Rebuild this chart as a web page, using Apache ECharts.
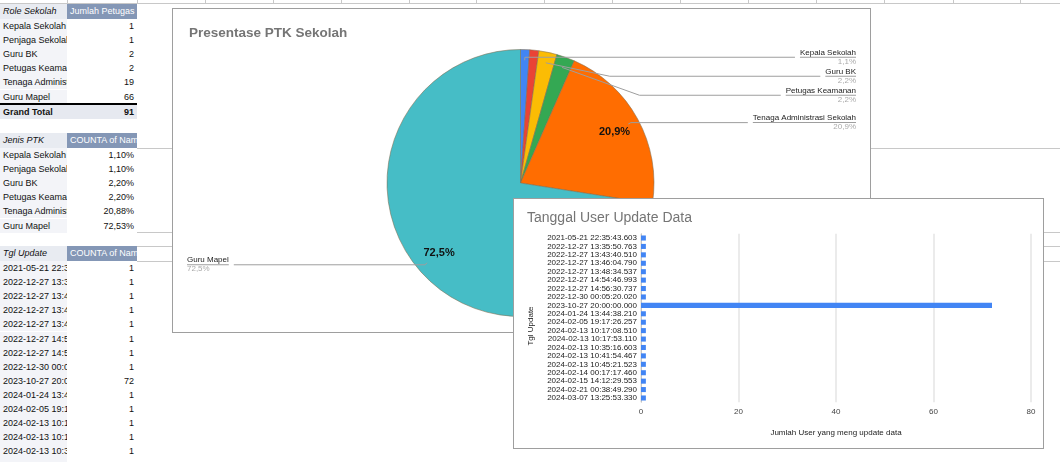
<!DOCTYPE html>
<html><head><meta charset="utf-8">
<script src="https://cdn.jsdelivr.net/npm/echarts@6/dist/echarts.min.js"></script>
<style>
html,body{margin:0;padding:0;width:1060px;height:462px;overflow:hidden;background:#fff;font-family:Arial,"Liberation Sans",sans-serif;}
.c{position:absolute;font-size:9px;white-space:nowrap;overflow:hidden;box-sizing:border-box;color:#111;}
.hl{position:absolute;height:1px;background:#c8c8c8;}
.vl{position:absolute;width:1px;background:#c8c8c8;}
.box{position:absolute;border:1px solid #9e9e9e;box-sizing:border-box;background:#fff;}
</style></head><body>
<div id="sheet"></div>
<div class="box" style="left:172px;top:8px;width:699px;height:325px;"><div id="pie" style="width:697px;height:323px"></div></div>
<div class="box" style="left:513px;top:198px;width:531px;height:251px;"><div id="bar" style="width:529px;height:249px"></div></div>
<script>
// ---------- data ----------
const roles = ['Kepala Sekolah','Penjaga Sekolah','Guru BK','Petugas Keamanan','Tenaga Administrasi Sekolah','Guru Mapel'];
const roleCounts = [1, 1, 2, 2, 19, 66];
const updateTimes = [
  '2021-05-21 22:35:43.603','2022-12-27 13:35:50.763','2022-12-27 13:43:40.510','2022-12-27 13:46:04.790',
  '2022-12-27 13:48:34.537','2022-12-27 14:54:46.993','2022-12-27 14:56:30.737','2022-12-30 00:05:20.020',
  '2023-10-27 20:00:00.000','2024-01-24 13:44:38.210','2024-02-05 19:17:26.257','2024-02-13 10:17:08.510',
  '2024-02-13 10:17:53.110','2024-02-13 10:35:16.603','2024-02-13 10:41:54.467','2024-02-13 10:45:21.523',
  '2024-02-14 00:17:17.460','2024-02-15 14:12:29.553','2024-02-21 00:38:49.290','2024-03-07 13:25:53.330'
];
const updateCounts = [1,1,1,1,1,1,1,1,72,1,1,1,1,1,1,1,1,1,1,1];
const valueTicks = [0, 20, 40, 60, 80];
const hiddenOuterLabels = ['Penjaga Sekolah'];
const palette = ['#4285f4','#ea4335','#fbbc04','#34a853','#ff6d01','#46bdc6'];

// ---------- spreadsheet backdrop ----------
const sheet = document.getElementById('sheet');
function el(cls, style, text){ const d=document.createElement('div'); d.className=cls; d.setAttribute('style',style); if(text!==undefined) d.textContent=text; sheet.appendChild(d); return d; }
const colLines=[67,137,205,273,341,409,476,544,612,680,748,816,884,953,1020];
colLines.forEach(x=>el('vl',`left:${x}px;top:0;height:4px;`));
el('hl','left:0;top:3px;width:1060px;');
[148,232,246,261].forEach(y=>el('hl',`left:137px;top:${y}px;width:923px;`));
const RH=14.1, AW=67, BW=70;
function header(y, a, b){
  el('c',`left:0;top:${y}px;width:${AW}px;height:15px;line-height:15px;background:#e8ebf1;font-style:italic;padding-left:3px;`,a);
  el('c',`left:${AW}px;top:${y}px;width:${BW}px;height:15px;line-height:15px;background:#8497b6;color:#fff;padding-left:3px;`,b);
}
function row(y, a, b, bold, bg){
  el('c',`left:0;top:${y}px;width:${AW}px;height:${RH}px;line-height:${RH}px;background:${bg||'#f3f4f8'};padding-left:3px;${bold?'font-weight:bold;':''}`,a);
  el('c',`left:${AW}px;top:${y}px;width:${BW}px;height:${RH}px;line-height:${RH}px;text-align:right;padding-right:3px;${bg?'background:'+bg+';':''}${bold?'font-weight:bold;':''}`,b);
}
const total = roleCounts.reduce((s,v)=>s+v,0);
header(4,'Role Sekolah','Jumlah Petugas');
roles.forEach((r,i)=>row(19+i*RH, r, String(roleCounts[i])));
el('c',`left:0;top:103px;width:${AW+BW}px;height:2px;background:#000;`);
row(104.5,'Grand Total',String(total),true,'#e6e9f0');
header(133,'Jenis PTK','COUNTA of Nama');
roles.forEach((r,i)=>row(148+i*RH, r, (roleCounts[i]/total*100).toFixed(2).replace('.',',')+'%'));
header(246,'Tgl Update','COUNTA of Nama');
updateTimes.forEach((t,i)=>row(261+i*RH, t, String(updateCounts[i])));

// ---------- pie chart ----------
const R = 133.5, C = [347.5, 174];
const pieData = roles.map((r,i)=>({name:r, value:roleCounts[i]}));
const fmtPct = p => p.toFixed(1).replace('.',',') + '%';
const pie = echarts.init(document.getElementById('pie'), null, {renderer:'canvas'});
pie.setOption({
  animation:false,
  color: palette,
  title:{text:'Presentase PTK Sekolah', left:16, top:17, padding:0,
    textStyle:{fontSize:13.5, fontWeight:'bold', color:'#757575', fontFamily:'Arial, Liberation Sans'}},
  series:[
    {type:'pie', center:C, radius:R, startAngle:90, clockwise:true, silent:true,
     label:{show:false}, labelLine:{show:false},
     itemStyle:{borderColor:'rgba(130,110,80,0.55)', borderWidth:1},
     data: pieData},
    {type:'pie', center:C, radius:[R*0.56, R], startAngle:90, clockwise:true, silent:true, z:3,
     itemStyle:{color:'rgba(0,0,0,0)'}, labelLine:{show:false},
     label:{position:'inside', fontSize:11, fontWeight:'bold', color:'#111', fontFamily:'Arial, Liberation Sans',
       formatter: p => p.percent >= 10 ? fmtPct(p.value/total*100) : ''},
     data: pieData},
    {type:'pie', center:C, radius:R*0.92, startAngle:90, clockwise:true, silent:true, z:4,
     itemStyle:{color:'rgba(0,0,0,0)'},
     avoidLabelOverlap:true,
     label:{position:'outer', alignTo:'edge', edgeDistance:14, fontFamily:'Arial, Liberation Sans',
       formatter: p => '{n|' + p.name + '}\n{l|}\n{p|' + fmtPct(p.value/total*100) + '}',
       rich:{
         n:{fontSize:8, lineHeight:8, color:'#222', fontFamily:'Arial, Liberation Sans'},
         l:{width:'100%', height:1, lineHeight:1, backgroundColor:'#9e9e9e'},
         p:{fontSize:8, lineHeight:8, color:'#aaaaaa', fontFamily:'Arial, Liberation Sans'}
       }},
     labelLine:{show:true, length:3, length2:20, smooth:false, lineStyle:{color:'#9e9e9e', width:1}},
     data: pieData.map(d => hiddenOuterLabels.includes(d.name)
        ? Object.assign({}, d, {label:{show:false}, labelLine:{show:false}}) : d)}
  ]
});

// ---------- bar chart ----------
const bar = echarts.init(document.getElementById('bar'), null, {renderer:'canvas'});
bar.setOption({
  animation:false,
  title:{text:'Tanggal User Update Data', left:13, top:12, padding:0,
    textStyle:{fontSize:14, fontWeight:'normal', color:'#757575', fontFamily:'Arial, Liberation Sans'}},
  grid:{left:127, right:12, top:34.8, bottom:45.8, containLabel:false},
  xAxis:{type:'value', min:valueTicks[0], max:valueTicks[valueTicks.length-1], interval:valueTicks[1]-valueTicks[0],
    name:'Jumlah User yang meng update data', nameLocation:'middle', nameGap:27,
    nameTextStyle:{fontSize:8, color:'#222', fontFamily:'Arial, Liberation Sans'},
    axisLine:{show:false}, axisTick:{show:false},
    axisLabel:{fontSize:8, color:'#444', margin:6, fontFamily:'Arial, Liberation Sans'},
    splitLine:{lineStyle:{color:'#ebebeb', width:2}}},
  yAxis:{type:'category', data:updateTimes, inverse:true,
    name:'Tgl Update', nameLocation:'middle', nameGap:106, nameRotate:90,
    nameTextStyle:{fontSize:8, color:'#222', fontFamily:'Arial, Liberation Sans', padding:[0,16,0,0]},
    axisLine:{show:true, lineStyle:{color:'#c4c4c4', width:1}}, axisTick:{show:false},
    axisLabel:{fontSize:8, color:'#222', margin:4, interval:0, fontFamily:'Arial, Liberation Sans'}},
  series:[{type:'bar', data:updateCounts, barWidth:'60%', itemStyle:{color:'#4285f4'}, silent:true}]
});
</script>
</body></html>
